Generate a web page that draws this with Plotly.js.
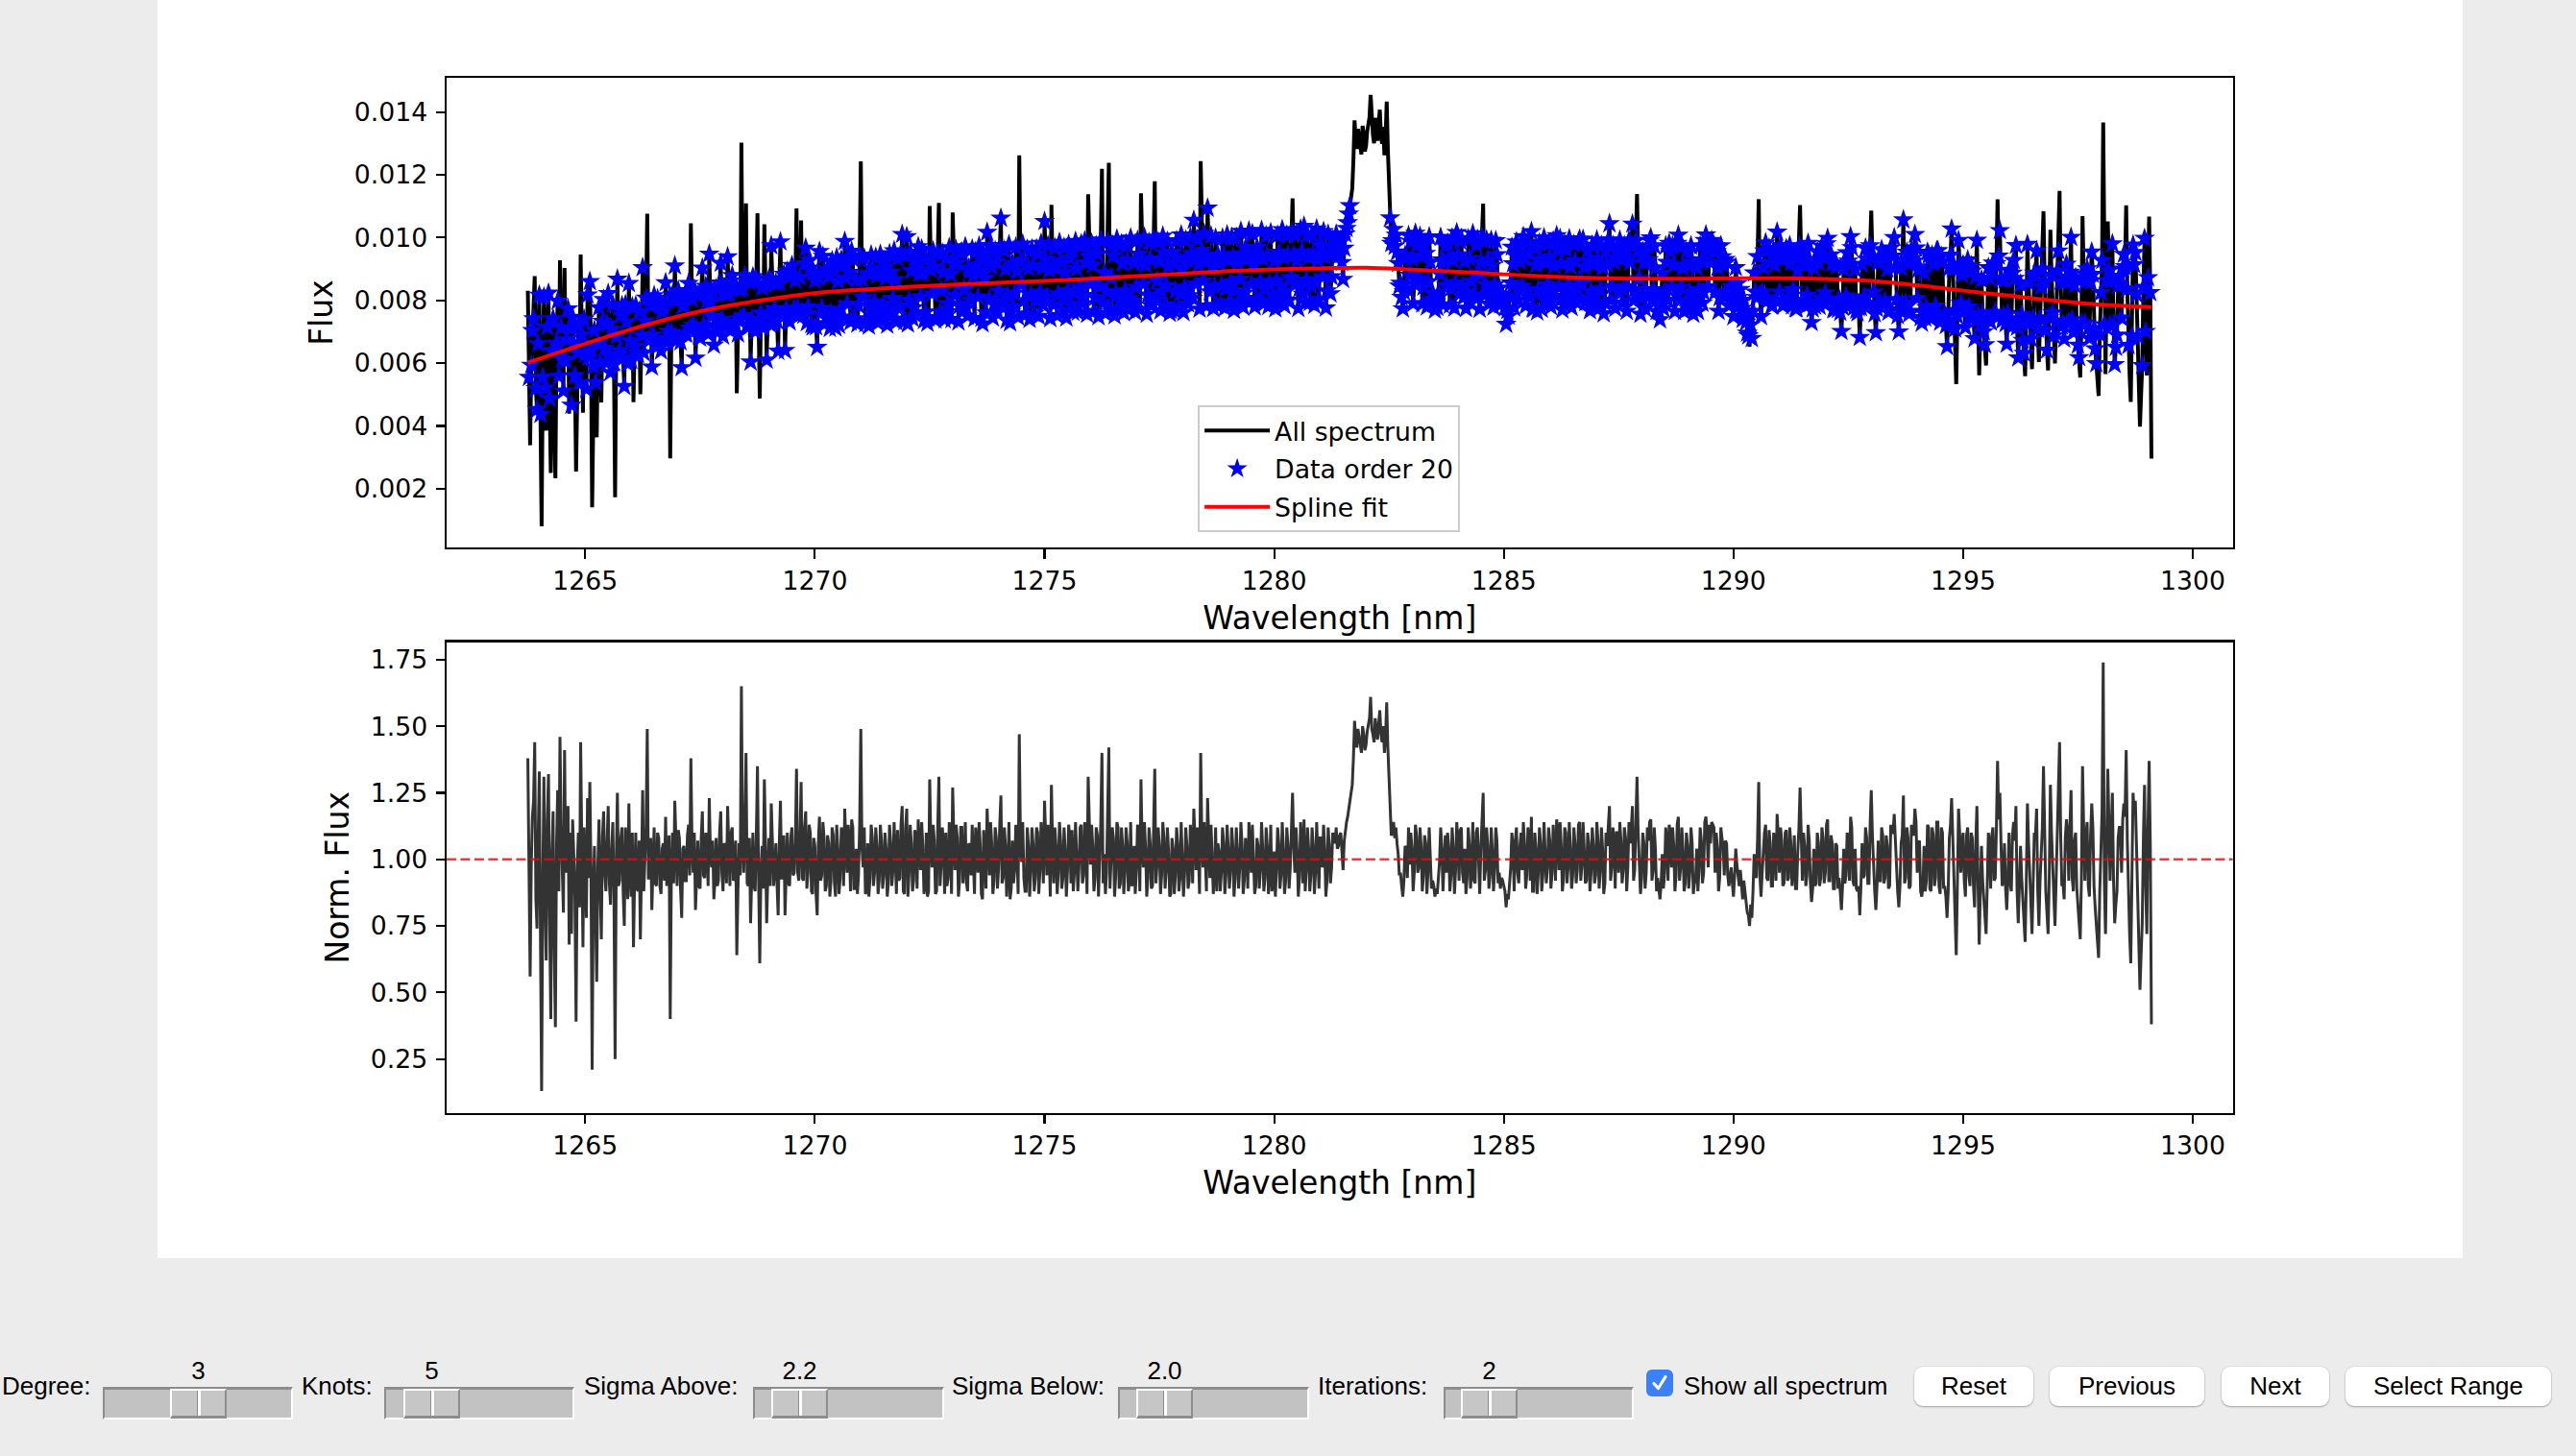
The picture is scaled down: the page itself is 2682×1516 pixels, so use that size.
<!DOCTYPE html>
<html>
<head>
<meta charset="utf-8">
<script src="https://cdn.plot.ly/plotly-3.0.1.min.js"></script>
<style>
  html, body { margin: 0; padding: 0; }
  body {
    width: 2682px; height: 1516px; background: #ececec;
    position: relative; overflow: hidden;
    font-family: "Liberation Sans", Arial, sans-serif;
  }
  #fig { position: absolute; left: 164px; top: 0; width: 2400px; height: 1310px; background: #fff; }
  .lbl { position: absolute; font-size: 26px; color: #000; line-height: 30px; white-space: nowrap; }
  .val { position: absolute; font-size: 26px; color: #000; line-height: 30px; text-align: center; width: 80px; }
  .trough {
    position: absolute; box-sizing: border-box; background: #c2c2c2;
    border-top: 3px solid #8d8d8d; border-left: 2px solid #8d8d8d;
    border-bottom: 2px solid #fff; border-right: 2px solid #fff;
  }
  .knob {
    position: absolute; box-sizing: border-box; background: #c6c6c6;
    border-top: 2px solid #fff; border-left: 2px solid #fff;
    border-right: 2px solid #8d8d8d; border-bottom: 3px solid #8d8d8d;
  }
  .groove { position: absolute; top: 0; bottom: 0; width: 3px; border-left: 1px solid #8d8d8d; background: #fff; }
  .btn {
    position: absolute; box-sizing: border-box; background: #fff; border-radius: 9px;
    box-shadow: 0 1px 2px rgba(0,0,0,0.28), 0 0 0 1px rgba(0,0,0,0.05);
    font-size: 26px; color: #000; display: flex; align-items: center; justify-content: center;
  }
  .check { position: absolute; box-sizing: border-box; border-radius: 6px; background: #3b80f6; }
</style>
</head>
<body>
<div id="fig"></div>
<div id="controls"></div>
<script>
// ---- spectrum of order 20: samples every 0.025 nm from wlStart ----
const wlStart = 1263.75;
const wlStep = 0.025;

// normalised flux (flux / spline) on the 0.05 nm samples: 1263.75, 1263.80, ...
const normFluxA = [
  1.38,0.56,1.16,1.44,0.74,1.33,0.13,1.31,0.62,1.32,0.40,1.18,0.37,1.26,1.46,0.96,1.41,1.05,0.68,0.72,
  1.02,0.39,1.10,1.44,0.67,0.95,1.23,1.29,0.21,1.05,0.54,1.15,0.70,1.18,0.88,1.20,0.83,1.14,0.25,1.25,
  0.92,1.12,0.75,1.04,1.21,0.86,0.67,1.10,0.88,0.70,1.26,1.02,1.49,0.93,0.81,1.12,0.90,1.08,0.87,1.06,
  1.16,0.95,0.40,1.10,1.22,0.90,1.08,0.78,1.05,0.92,1.13,1.38,0.95,0.81,1.07,0.89,1.18,0.93,1.04,1.23,
  0.97,0.85,1.08,0.92,1.18,0.88,1.05,1.20,0.90,1.12,0.93,0.64,1.06,1.65,0.95,1.40,0.90,0.76,1.10,0.88,
  1.35,0.61,1.05,1.30,0.76,1.08,1.21,0.90,1.06,0.79,1.22,0.93,0.79,1.10,0.90,1.12,0.95,1.34,0.92,1.29,
  0.92,1.18,0.95,1.10,0.87,1.05,0.79,1.16,0.94,1.08,0.90,1.06,0.92,1.09,0.86,1.04,0.93,1.10,1.19,0.95,
  1.07,1.15,0.89,1.04,0.94,1.49,0.97,0.87,1.06,0.93,1.08,0.95,1.05,0.92,1.07,0.94,1.04,0.91,1.06,0.96,
  1.03,1.11,0.93,1.20,0.87,1.19,0.95,1.06,0.92,1.09,1.15,0.96,1.05,0.90,0.86,1.30,0.97,1.07,0.88,1.31,
  0.98,1.05,1.10,0.93,1.04,1.27,0.96,1.08,0.92,1.12,0.98,0.91,1.06,0.94,1.03,1.12,0.95,1.05,0.85,1.02,
  1.19,0.94,1.06,0.92,1.08,0.97,1.24,0.93,1.05,0.95,0.85,1.07,0.96,1.04,1.47,0.99,0.93,0.88,1.05,0.95,
  1.06,0.93,1.10,0.96,1.05,1.22,0.94,1.04,1.28,0.91,1.05,0.95,1.07,0.93,1.03,0.96,1.08,1.11,0.95,1.04,
  0.97,1.13,0.94,1.06,1.31,0.98,1.05,0.93,1.09,0.97,1.40,1.02,0.95,1.42,1.00,1.08,0.94,1.12,0.91,1.05,
  0.95,1.06,0.92,0.90,1.05,0.96,1.08,1.30,0.97,1.04,0.93,1.06,0.90,1.34,0.98,1.05,0.94,1.08,0.96,1.03,
  0.87,1.04,0.94,1.06,0.93,1.02,0.95,1.05,0.92,1.07,1.19,0.96,1.03,1.40,0.97,1.04,1.23,0.93,1.02,0.95,
  0.88,1.03,0.95,1.06,0.94,1.04,0.96,1.05,0.93,1.03,0.97,1.06,0.92,1.04,1.14,0.95,1.02,0.90,1.05,0.96,
  1.04,0.93,1.05,0.95,0.88,1.03,0.96,1.06,0.94,1.04,0.92,1.05,0.97,1.25,0.95,1.03,0.93,1.06,1.15,0.96,
  1.04,0.94,1.05,0.95,1.03,1.08,0.97,1.04,0.92,1.05,0.97,1.08,1.12,1.05,1.10,0.96,1.12,1.16,1.22,1.28,
  1.52,1.42,1.46,1.40,1.47,1.43,1.50,1.61,1.47,1.53,1.45,1.56,1.44,1.40,1.59,1.29,1.09,1.14,1.12,1.02,
  0.95,0.86,1.05,0.93,0.98,1.04,0.95,1.09,0.97,1.05,0.94,1.06,0.96,1.03,0.92,0.86,0.87,0.99,1.04,1.03,
  0.95,1.05,0.94,1.04,0.96,1.06,1.11,0.95,1.04,0.93,1.05,0.97,0.92,1.10,1.00,1.04,1.25,0.96,1.05,0.94,
  1.03,0.96,1.07,0.95,0.93,0.90,0.82,0.85,0.97,1.04,1.07,0.95,1.05,0.96,1.06,0.94,1.08,1.16,0.88,1.04,
  0.95,1.06,0.94,1.05,0.97,1.07,0.95,1.04,1.15,0.96,1.05,0.93,1.10,0.97,1.04,0.94,1.06,0.96,1.14,0.98,
  1.04,0.92,1.06,0.95,1.05,0.94,1.07,0.96,1.04,0.91,1.05,1.20,0.97,1.06,1.10,0.95,1.07,0.96,1.08,0.97,
  1.06,1.20,0.96,1.31,1.00,0.93,1.06,0.95,1.07,1.15,0.96,1.04,0.93,0.85,1.02,0.95,1.06,1.13,0.97,1.05,
  0.94,1.16,0.97,1.04,0.91,1.05,0.95,1.06,0.91,1.04,0.96,1.07,0.95,1.16,0.97,1.06,1.13,0.95,1.04,0.93,
  1.08,0.94,1.06,0.90,0.97,0.86,1.04,0.93,0.96,0.85,0.88,0.80,0.75,0.78,1.02,0.93,1.29,0.86,1.04,1.13,
  0.92,1.06,0.90,1.05,1.17,0.95,1.07,0.91,1.11,0.93,1.06,0.96,0.89,1.03,1.27,0.92,1.05,0.94,1.07,0.84,
  1.04,0.91,1.06,0.93,1.08,0.95,1.15,0.92,1.06,0.89,1.05,0.93,0.81,1.04,0.94,1.07,1.16,0.92,1.04,0.88,
  0.79,1.06,0.94,1.08,0.91,1.26,0.96,0.81,1.07,0.92,1.09,0.93,1.05,0.90,1.10,1.17,0.94,0.82,1.06,1.24,
  0.93,1.08,0.90,1.10,1.19,0.95,1.07,0.86,1.05,0.92,1.12,0.88,1.09,0.93,1.14,0.87,1.10,0.90,0.78,1.08,
  1.23,0.92,0.64,1.19,0.95,1.10,0.86,1.12,0.90,1.08,0.82,1.20,0.68,1.05,0.85,0.72,1.10,0.89,1.12,0.93,
  1.37,1.25,0.90,1.06,0.81,1.10,0.88,1.14,1.20,0.76,1.05,0.83,0.69,1.21,0.90,0.72,1.10,1.19,0.75,1.05,
  1.35,0.88,0.72,1.28,0.95,0.75,1.12,1.44,0.90,0.85,1.15,0.92,1.26,0.88,1.10,0.83,0.70,1.35,0.92,1.14,
  0.86,1.21,0.90,0.76,0.63,1.05,1.74,0.72,1.34,0.92,1.25,0.76,0.88,1.12,0.95,1.21,1.41,0.84,0.61,1.25,
  1.22,0.88,0.51,0.76,1.28,0.72,1.37,0.38
];

// normalised flux on the samples in between: 1263.775, 1263.825, ...
const normFluxB = [
  0.92,0.98,1.22,0.85,1.08,0.71,0.90,0.84,1.15,0.78,1.02,0.66,1.05,0.88,1.12,0.80,0.95,1.20,1.10,1.15,
  0.86,0.97,0.82,1.05,1.12,0.78,0.93,0.96,0.88,0.80,0.98,0.89,1.08,0.95,1.06,0.91,1.03,0.87,0.99,0.90,
  1.08,0.88,1.12,0.85,0.95,1.10,0.92,0.89,1.07,0.96,0.88,1.12,0.93,1.08,0.95,0.91,1.10,0.90,1.04,0.92,
  0.90,1.09,0.94,0.91,1.07,1.11,0.89,1.04,0.92,1.09,0.94,1.06,1.10,0.93,0.90,1.08,0.94,1.10,0.90,1.03,
  1.07,0.92,0.90,1.10,0.95,1.06,0.91,1.05,1.10,0.92,1.07,0.88,0.94,1.06,1.11,0.91,1.08,0.93,0.90,1.09,
  0.92,0.95,0.89,1.06,0.94,0.90,1.07,0.96,0.91,1.06,0.93,1.09,0.95,0.91,1.08,0.94,1.06,0.95,1.07,0.93,
  1.12,0.89,1.13,0.88,1.08,0.87,1.06,0.92,1.14,0.88,1.09,0.86,1.12,0.91,1.13,0.87,1.12,0.90,1.05,1.13,
  0.88,1.12,0.89,0.87,1.13,1.04,1.12,0.88,0.86,1.13,0.90,1.12,0.87,1.13,0.89,1.10,0.86,1.13,0.90,1.14,
  0.87,0.92,1.13,0.88,1.12,0.86,1.13,0.88,1.11,0.89,1.05,1.14,0.87,1.10,0.88,1.06,1.13,0.87,1.12,0.90,
  1.12,0.87,0.90,1.14,0.87,1.08,1.13,0.86,1.12,0.91,1.14,0.88,1.05,1.13,0.87,1.07,1.14,0.87,1.11,0.89,
  1.08,1.14,0.87,1.12,0.89,1.13,0.91,1.12,0.86,1.14,0.89,0.91,1.13,0.87,1.08,1.14,0.88,1.12,0.86,1.12,
  0.88,1.12,0.87,1.14,0.91,1.08,1.13,0.86,1.05,1.12,0.87,1.14,0.89,1.12,0.86,1.13,0.91,0.88,1.14,0.88,
  1.12,0.91,1.14,0.87,1.08,1.13,0.88,1.12,0.86,1.14,0.91,0.87,1.13,0.89,1.12,0.86,1.14,0.89,1.12,0.87,
  1.12,0.88,1.14,0.91,0.87,1.13,0.88,1.05,1.14,0.86,1.12,0.89,1.13,0.91,1.12,0.87,1.14,0.89,1.12,0.86,
  1.08,0.87,1.12,0.88,1.14,0.86,1.12,0.89,1.13,0.91,1.05,1.12,0.87,1.08,1.14,0.88,1.05,1.13,0.87,1.12,
  1.06,0.88,1.12,0.87,1.13,0.89,1.12,0.86,1.12,0.89,1.14,0.87,1.08,0.89,1.05,1.13,0.87,1.08,0.89,1.14,
  0.88,1.12,0.87,1.13,0.91,0.86,1.12,0.89,1.14,0.87,1.12,0.89,1.13,1.05,1.12,0.86,1.14,0.91,0.88,1.12,
  0.88,1.12,0.87,1.14,0.89,1.08,1.13,0.86,1.12,0.91,1.10,1.06,1.04,1.09,1.02,1.07,1.14,1.19,1.25,1.38,
  1.45,1.49,1.43,1.50,1.41,1.48,1.53,1.49,1.44,1.48,1.51,1.47,1.50,1.46,1.42,1.18,1.10,1.08,1.06,0.94,
  0.90,0.92,1.04,1.12,1.10,0.88,1.13,0.95,1.12,0.88,1.09,0.87,1.12,0.89,0.90,0.89,0.92,1.12,0.88,1.09,
  1.10,0.88,1.12,0.87,1.14,0.92,1.12,0.91,0.87,1.12,0.89,1.14,0.91,1.12,0.87,1.13,0.92,1.12,0.89,1.12,
  0.88,1.12,0.91,0.89,0.92,0.88,0.87,0.92,1.10,0.88,1.12,0.91,1.10,1.14,0.89,1.12,0.92,0.88,1.10,0.87,
  1.12,0.88,1.14,0.91,1.12,0.89,1.13,0.92,1.10,1.14,0.88,1.12,0.91,1.14,0.89,1.12,0.91,1.13,0.92,1.14,
  0.91,1.10,0.88,1.12,0.91,1.14,0.89,1.12,0.87,1.10,1.14,0.92,1.12,0.89,1.10,1.14,0.91,1.12,0.88,1.14,
  1.12,0.92,1.14,1.10,0.87,1.10,0.89,1.12,1.14,0.92,1.12,0.88,0.88,0.91,0.89,1.12,0.92,1.10,1.12,0.88,
  1.13,0.92,1.12,0.88,1.10,0.89,1.12,0.87,0.92,0.88,1.12,0.91,1.14,1.10,1.13,1.14,1.12,1.10,0.88,1.12,
  1.05,1.07,0.94,0.95,0.91,0.94,0.98,0.90,0.89,0.92,0.84,0.79,0.83,0.88,0.95,1.08,0.94,0.95,1.10,0.93,
  1.11,0.90,1.10,0.92,1.09,1.12,0.90,1.10,0.92,1.12,0.90,1.09,0.89,1.12,1.06,1.10,0.90,1.13,0.91,0.89,
  0.90,1.10,0.90,1.12,0.91,1.13,0.92,1.09,0.89,1.06,0.89,0.88,0.90,0.91,1.10,0.92,1.12,0.90,0.89,0.90,
  0.90,0.93,1.12,0.91,1.13,1.09,0.88,0.90,0.92,1.12,0.91,1.09,0.89,1.13,1.10,1.06,0.88,0.90,1.09,0.91,
  1.12,0.89,1.13,1.09,1.14,1.06,0.88,0.90,0.88,1.13,0.89,1.12,0.90,1.14,0.90,1.12,0.89,0.86,0.88,1.13,
  1.08,0.85,0.90,1.10,1.06,0.92,1.09,0.94,1.10,0.90,1.06,0.91,0.88,0.92,0.80,0.90,1.06,1.09,0.92,1.12,
  1.15,1.06,0.92,0.89,0.93,0.91,1.09,1.07,0.88,0.90,0.93,0.78,0.91,1.06,0.84,0.92,1.09,0.88,0.92,1.12,
  1.07,0.80,0.93,1.10,0.86,0.92,1.20,1.08,0.91,1.08,1.10,1.12,0.93,1.07,0.89,0.78,0.92,1.12,1.09,0.90,
  1.09,1.12,0.82,0.70,0.88,1.18,0.92,1.10,1.14,1.10,0.92,0.83,1.08,1.12,1.15,1.16,1.07,0.72,0.88,1.17,
  1.05,0.70,0.64,1.08,0.90,1.12,1.06
];

// spline continuum (flux units) at these wavelengths
const splineNm = [1263.75,1264,1265,1266,1267,1268,1269,1270,1271,1272,1273,1274,1275,1276,1277,1278,1279,1280,1281,
  1282,1283,1284,1285,1286,1287,1288,1289,1290,1291,1292,1293,1294,1295,1296,1297,1298,1299,1299.1];
const splineFlux = [0.00602,0.00614,0.00662,0.00708,0.00748,0.00780,0.00804,0.00823,0.00834,0.00843,0.00850,0.00856,
  0.00862,0.00869,0.00877,0.00885,0.00893,0.00899,0.00902,0.00904,0.00898,0.00891,0.00883,0.00876,0.00871,0.00869,
  0.00869,0.00870,0.00870,0.00868,0.00862,0.00848,0.00831,0.00815,0.00799,0.00786,0.00779,0.00778];

const normLevel = 1.0;

// fit settings shown under the figure
const sliderNames = ["Degree:", "Knots:", "Sigma Above:", "Sigma Below:", "Iterations:"];
const sliderValues = ["3", "5", "2.2", "2.0", "2"];
const sigmaAbove = 2.2, sigmaBelow = 2.0, clipIterations = 2;
const checkboxText = "Show all spectrum";
const buttonNames = ["Reset", "Previous", "Next", "Select Range"];

const xTicks = [1265, 1270, 1275, 1280, 1285, 1290, 1295, 1300];
const fluxTicks = [0.002, 0.004, 0.006, 0.008, 0.010, 0.012, 0.014];
const normTicks = [0.25, 0.50, 0.75, 1.00, 1.25, 1.50, 1.75];
const seriesNames = ["All spectrum", "Data order 20", "Spline fit"];

// ---- derived series ----
const normFlux = [];
normFluxA.forEach((v, i) => {
  normFlux.push(v);
  if (i < normFluxB.length) normFlux.push(normFluxB[i]);
});
const wavelength = normFlux.map((_, i) => +(wlStart + i * wlStep).toFixed(3));
function continuumAt(w) {
  for (let k = 0; k < splineNm.length - 1; k++) {
    if (w <= splineNm[k + 1]) {
      const t = (w - splineNm[k]) / (splineNm[k + 1] - splineNm[k]);
      return splineFlux[k] + t * (splineFlux[k + 1] - splineFlux[k]);
    }
  }
  return splineFlux[splineFlux.length - 1];
}
const continuum = wavelength.map(continuumAt);
const flux = normFlux.map((v, i) => v * continuum[i]);

// sigma clipping of the residuals about the spline
const resid = flux.map((f, i) => f - continuum[i]);
let keep = resid.map(() => true);
for (let it = 0; it < clipIterations; it++) {
  const r = resid.filter((_, i) => keep[i]);
  const sd = Math.sqrt(r.reduce((s, x) => s + x * x, 0) / r.length);
  keep = resid.map(x => x < sigmaAbove * sd && x > -sigmaBelow * sd);
}
const keptWl = wavelength.filter((_, i) => keep[i]);
const keptFlux = flux.filter((_, i) => keep[i]);

// ---- figure ----
const FONT = "DejaVu Sans, sans-serif";
const axisBase = {
  showline: true, mirror: true, linecolor: "#000", linewidth: 2.1,
  ticks: "outside", ticklen: 9.3, tickwidth: 2.1, tickcolor: "#000",
  showgrid: false, zeroline: false,
  tickfont: { family: FONT, size: 26.7, color: "#000" }
};
const titleFont = { family: FONT, size: 33, color: "#000" };
const xDomain = [0.12538, 0.90025];
const xRange = [1261.98, 1300.87];

const traces = [
  { x: wavelength, y: flux, type: "scatter", mode: "lines", name: seriesNames[0], legendgroup: "a",
    line: { color: "#000", width: 4 }, xaxis: "x", yaxis: "y" },
  { x: keptWl, y: keptFlux, type: "scatter", mode: "markers", name: seriesNames[1], legendgroup: "b",
    marker: { symbol: "star", color: "#0000ff", size: 16.5, line: { width: 0 } }, xaxis: "x", yaxis: "y" },
  { x: splineNm, y: splineFlux, type: "scatter", mode: "lines", name: seriesNames[2], legendgroup: "c",
    line: { color: "#ff0000", width: 4, shape: "spline", smoothing: 1 }, xaxis: "x", yaxis: "y" },
  { x: wavelength, y: normFlux, type: "scatter", mode: "lines", showlegend: false,
    line: { color: "#333333", width: 3 }, xaxis: "x2", yaxis: "y2" }
];

const layout = {
  width: 2400, height: 1310,
  margin: { l: 0, r: 0, t: 0, b: 0 },
  paper_bgcolor: "#ffffff", plot_bgcolor: "#ffffff",
  showlegend: true,
  xaxis: Object.assign({}, axisBase, {
    domain: xDomain, anchor: "y", range: xRange, tickvals: xTicks, ticklabelstandoff: 0,
    title: { text: "Wavelength [nm]", font: titleFont, standoff: 13 }
  }),
  yaxis: Object.assign({}, axisBase, {
    domain: [0.56466, 0.93840], anchor: "x", range: [0.00012, 0.0151], ticklabelstandoff: 3,
    tickvals: fluxTicks, tickformat: ".3f",
    title: { text: "Flux", font: titleFont, standoff: 12 }
  }),
  xaxis2: Object.assign({}, axisBase, {
    domain: xDomain, anchor: "y2", range: xRange, tickvals: xTicks, ticklabelstandoff: 0,
    title: { text: "Wavelength [nm]", font: titleFont, standoff: 13 }
  }),
  yaxis2: Object.assign({}, axisBase, {
    domain: [0.11534, 0.48962], anchor: "x2", range: [0.047, 1.816], ticklabelstandoff: 3,
    tickvals: normTicks, tickformat: ".2f",
    title: { text: "Norm. Flux", font: titleFont, standoff: 12 }
  }),
  legend: {
    x: 0.4513, y: 0.6775, xanchor: "left", yanchor: "top",
    bgcolor: "rgba(255,255,255,0.8)", bordercolor: "#cccccc", borderwidth: 2,
    font: { family: FONT, size: 26.7, color: "#000" },
    traceorder: "grouped", tracegroupgap: 2, itemwidth: 68
  },
  shapes: [{
    type: "line", xref: "x2 domain", yref: "y2", x0: 0, x1: 1, y0: normLevel, y1: normLevel,
    line: { color: "rgba(255,0,0,0.8)", width: 2.7, dash: "10px,4.5px" }, layer: "above"
  }]
};

Plotly.newPlot("fig", traces, layout, { staticPlot: true, displayModeBar: false });

// ---- control strip ----
const ctl = document.getElementById("controls");
function el(cls, css, text) {
  const d = document.createElement("div");
  d.className = cls;
  Object.assign(d.style, css);
  if (text !== undefined) d.textContent = text;
  ctl.appendChild(d);
  return d;
}
// label left edge, trough [left, right], knob left
const sliderBoxes = [
  { label: 2, trough: [107, 305], knob: 177 },
  { label: 314, trough: [400, 598], knob: 420 },
  { label: 608, trough: [784, 983], knob: 803 },
  { label: 991, trough: [1164, 1363], knob: 1183 },
  { label: 1372, trough: [1503, 1701], knob: 1521 }
];
const knobW = 59;
sliderNames.forEach((name, i) => {
  const b = sliderBoxes[i];
  el("lbl", { left: b.label + "px", top: "1428px" }, name);
  el("trough", { left: b.trough[0] + "px", top: "1444px", width: (b.trough[1] - b.trough[0]) + "px", height: "34px" });
  const k = el("knob", { left: b.knob + "px", top: "1446px", width: knobW + "px", height: "31px" });
  const g = document.createElement("div");
  g.className = "groove";
  g.style.left = (knobW / 2 - 4) + "px";
  k.appendChild(g);
  el("val", { left: (b.knob + knobW / 2 - 40) + "px", top: "1412px" }, sliderValues[i]);
});

const chk = el("check", { left: "1714px", top: "1426px", width: "28px", height: "28px" });
chk.innerHTML = '<svg width="28" height="28" viewBox="0 0 28 28"><path d="M8 14.5 L12.5 19.5 L20 7.5" fill="none" stroke="#fff" stroke-width="3.2" stroke-linecap="round" stroke-linejoin="round"/></svg>';
el("lbl", { left: "1753px", top: "1428px" }, checkboxText);

const buttonBoxes = [[1993, 2117], [2134, 2295], [2313, 2425], [2442, 2656]];
buttonNames.forEach((name, i) => {
  const b = buttonBoxes[i];
  el("btn", { left: b[0] + "px", top: "1423px", width: (b[1] - b[0]) + "px", height: "41px" }, name);
});
</script>
</body>
</html>
